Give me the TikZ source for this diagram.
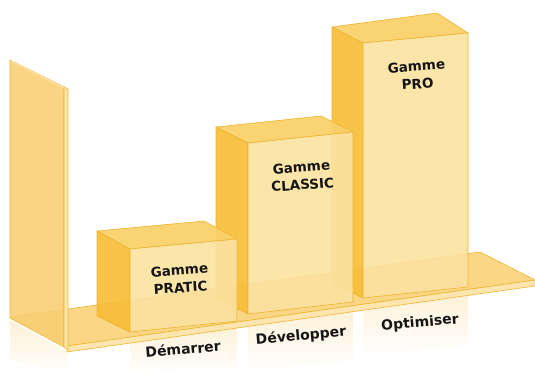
\documentclass[tikz,border=0pt]{standalone}
\usepackage{fontspec}
\setmainfont{DejaVu Sans}
\definecolor{sideC}{HTML}{F6BE38}
\definecolor{topC}{HTML}{FAD06A}
\definecolor{frontC}{HTML}{FCE2A0}
\definecolor{edgeC}{HTML}{EDB530}
\definecolor{wallC}{HTML}{F9CF74}
\definecolor{wallEdgeC}{HTML}{FCE6AE}
\definecolor{floorC}{HTML}{FAD685}
\definecolor{stripC}{HTML}{FCE5AE}
\definecolor{reflC}{HTML}{FDF0D4}
\definecolor{textC}{HTML}{151515}
\begin{document}
\begin{tikzpicture}[x=1pt,y=-1pt,
  edge/.style={draw=edgeC, line width=0.6pt, line join=round},
  sideface/.style={edge, fill=sideC, fill opacity=0.92},
  topface/.style={edge, fill=topC, fill opacity=0.94},
  frontface/.style={edge, fill=frontC, fill opacity=0.9},
  boxlabel/.style={font=\bfseries\fontsize{13.5}{17.5}\selectfont, text=textC, align=center, rotate=4, inner sep=0pt},
  steplabel/.style={font=\bfseries\fontsize{14}{16}\selectfont, text=textC, rotate=5, inner sep=0pt}]
\useasboundingbox (0,0) rectangle (535,374);

% reflections below the floor
\shade[top color=reflC, bottom color=white] (10,320) -- (67,352) -- (67,374) -- (10,360) -- cycle;
\shade[top color=reflC, bottom color=white] (130,337) -- (237,322) -- (237,368) -- (130,374) -- cycle;
\shade[top color=reflC, bottom color=white] (248,320) -- (353,305) -- (353,360) -- (248,372) -- cycle;
\shade[top color=reflC, bottom color=white] (363,304) -- (468,289) -- (468,345) -- (363,356) -- cycle;

% floor
\filldraw[edge, fill=floorC] (10,317) -- (480,252) -- (535,280) -- (67,346) -- cycle;
\filldraw[edge, fill=stripC] (67,346) -- (535,280) -- (535,286) -- (67,352) -- cycle;

% left wall
\filldraw[edge, fill=wallC, fill opacity=0.9] (10,60) -- (64,87) -- (64,347) -- (10,318) -- cycle;
\filldraw[edge, fill=wallEdgeC] (64,87) -- (68,89) -- (68,350) -- (64,347) -- cycle;
\draw[wallEdgeC, line width=1pt] (11,61) -- (64,88);

% box PRO
\filldraw[sideface] (332,27) -- (363,43) -- (363,298) -- (332,283) -- cycle;
\filldraw[topface] (332,27) -- (437,13) -- (468,33) -- (363,43) -- cycle;
\filldraw[frontface] (363,43) -- (468,33) -- (468,287) -- (363,298) -- cycle;

% box CLASSIC
\filldraw[sideface] (216,127) -- (248,143) -- (248,314) -- (216,298) -- cycle;
\filldraw[topface] (216,127) -- (321,116) -- (353,132) -- (248,143) -- cycle;
\filldraw[frontface] (248,143) -- (353,132) -- (353,302) -- (248,314) -- cycle;

% box PRATIC
\filldraw[sideface] (97,231) -- (130,249) -- (130,332) -- (97,316) -- cycle;
\filldraw[topface] (97,231) -- (204,221) -- (237,239) -- (130,249) -- cycle;
\filldraw[frontface] (130,249) -- (237,239) -- (237,321) -- (130,332) -- cycle;

% labels
\node[boxlabel] (pratic) at (180,279) {Gamme\\PRATIC};
\node[boxlabel] (classic) at (302,176) {Gamme\\CLASSIC};
\node[boxlabel] (pro) at (417,75) {Gamme\\PRO};
\node[steplabel] (demarrer) at (183,349) {Démarrer};
\node[steplabel] (developper) at (301,336) {Développer};
\node[steplabel] (optimiser) at (420,323) {Optimiser};
\end{tikzpicture}
\end{document}
